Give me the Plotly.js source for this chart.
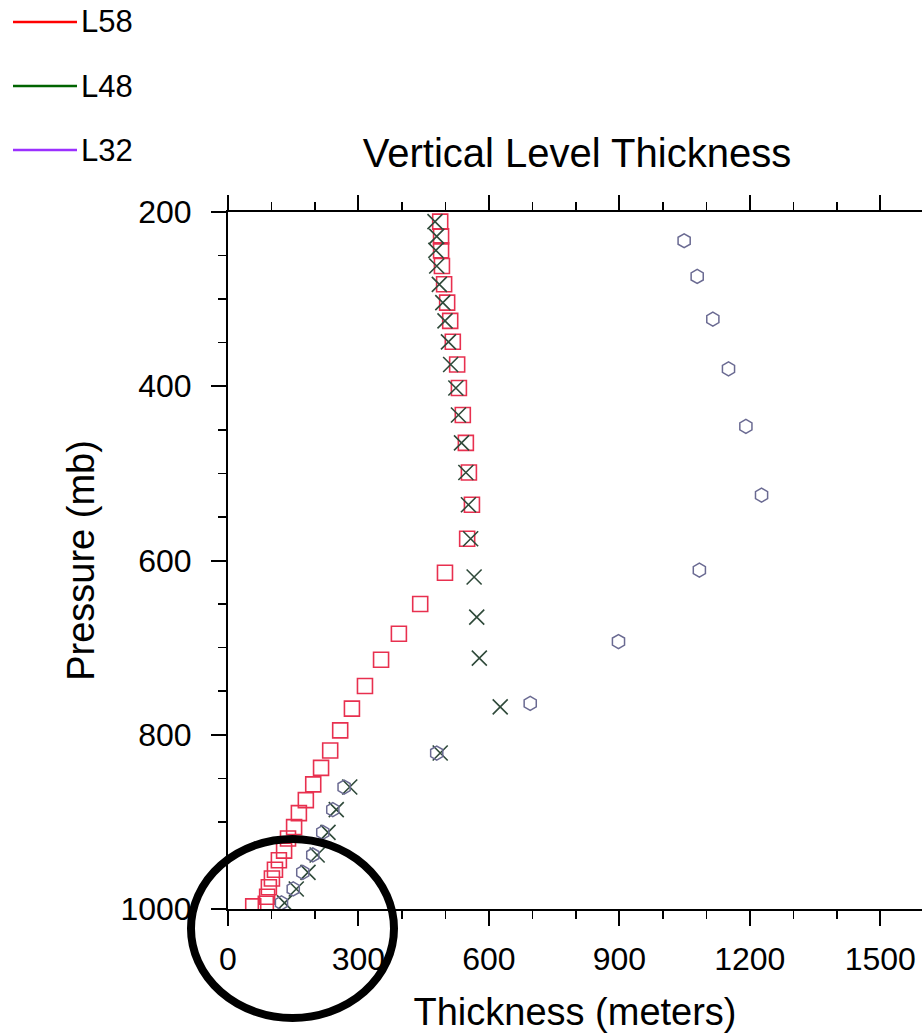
<!DOCTYPE html>
<html>
<head>
<meta charset="utf-8">
<script src="https://cdn.plot.ly/plotly-3.0.1.min.js"></script>
<style>html,body{margin:0;padding:0;background:#fff;}#chart{width:922px;height:1035px;}</style>
</head>
<body>
<div id="chart"></div>
<script>
// Series names
const seriesNames = ["L58", "L48", "L32"];

// L58 (squares)
const l58Pressure = [211, 228, 244, 262, 283, 304, 325, 349, 375, 402, 433, 465, 499, 536, 575, 614, 650, 684, 714, 744, 770, 795, 818, 838, 857, 875, 890, 906, 919, 933, 944, 955, 965, 975, 986, 994, 997];
const l58Thickness = [488, 490, 490, 492, 497, 504, 511, 517, 527, 531, 540, 547, 554, 561, 550, 499, 442, 393, 352, 315, 285, 258, 235, 214, 196, 179, 163, 152, 138, 129, 117, 108, 101, 94, 90, 87, 58];

// L48 (x markers)
const l48Pressure = [211, 228, 244, 262, 283, 304, 325, 349, 375, 402, 433, 465, 499, 536, 575, 619, 665, 712, 768, 821, 860, 886, 912, 938, 958, 977, 993];
const l48Thickness = [476, 480, 478, 480, 486, 494, 499, 507, 512, 524, 530, 537, 547, 553, 558, 566, 572, 578, 626, 488, 280, 249, 230, 205, 184, 157, 130];

// L32 (hexagons)
const l32Pressure = [233, 274, 323, 380, 446, 525, 611, 693, 764, 821, 860, 886, 912, 938, 958, 977, 993];
const l32Thickness = [1049, 1079, 1115, 1151, 1191, 1227, 1084, 898, 695, 480, 267, 241, 218, 195, 172, 150, 123];

// Axis ticks
const xTickVals = [0, 300, 600, 900, 1200, 1500];
const yTickVals = [200, 400, 600, 800, 1000];

const FONT = "Liberation Sans, Arial, Helvetica, sans-serif";

const traces = [
  {
    name: seriesNames[0], x: l58Thickness, y: l58Pressure, type: "scatter", mode: "markers",
    marker: {symbol: "square-open", size: 15, color: "#e8304f", line: {width: 1.6, color: "#e8304f"}},
    showlegend: false
  },
  {
    name: seriesNames[1], x: l48Thickness, y: l48Pressure, type: "scatter", mode: "markers",
    marker: {symbol: "x-thin-open", size: 15, color: "#2f4a3a", line: {width: 1.6, color: "#2f4a3a"}},
    showlegend: false
  },
  {
    name: seriesNames[2], x: l32Thickness, y: l32Pressure, type: "scatter", mode: "markers",
    marker: {symbol: "hexagon-open", size: 14, color: "#6a6a92", line: {width: 1.5, color: "#6a6a92"}},
    showlegend: false
  }
];

// Legend drawn as shapes + annotations (pixel positions converted to paper coords)
const plotLeft = 228, plotW = 694, plotBottom = 909, plotH = 697;
function px2x(p) { return (p - plotLeft) / plotW; }
function py2y(p) { return (plotBottom - p) / plotH; }
const legendColors = ["#ff0000", "#006400", "#9b30ff"];
const legendY = [22, 86, 150];
const shapes = [], annotations = [];
seriesNames.forEach((n, i) => {
  shapes.push({type: "line", xref: "paper", yref: "paper", x0: px2x(13), x1: px2x(77),
    y0: py2y(legendY[i]), y1: py2y(legendY[i]), line: {color: legendColors[i], width: 2.5}});
  annotations.push({xref: "paper", yref: "paper", x: px2x(79), y: py2y(legendY[i]),
    xanchor: "left", yanchor: "middle", text: n, showarrow: false,
    font: {family: FONT, size: 31, color: "#000"}});
});
// Hand-drawn highlight ellipse around the lower-left corner
shapes.push({type: "circle", xref: "paper", yref: "paper", layer: "above",
  x0: px2x(191), x1: px2x(394), y0: py2y(1018), y1: py2y(839),
  line: {color: "#000", width: 8}});

const layout = {
  width: 922, height: 1035,
  margin: {l: 228, r: 0, t: 212, b: 126},
  paper_bgcolor: "#fff", plot_bgcolor: "#fff",
  showlegend: false,
  title: {text: "Vertical Level Thickness", xref: "container", yref: "container",
    x: 577/922, y: 1 - 153/1035, xanchor: "center", yanchor: "middle",
    font: {family: FONT, size: 40, color: "#000"}},
  xaxis: {
    range: [0, 1596], tickvals: xTickVals, ticks: "outside", ticklen: 15, tickwidth: 2, tickcolor: "#000",
    minor: {dtick: 100, tick0: 0, ticks: "outside", ticklen: 8, tickwidth: 1.5, tickcolor: "#000", showgrid: false},
    showline: true, linewidth: 2, linecolor: "#000", mirror: "ticks",
    showgrid: false, zeroline: false, ticklabelstandoff: 6,
    tickfont: {family: FONT, size: 32, color: "#000"},
    title: {text: "Thickness (meters)", standoff: 22, font: {family: FONT, size: 38, color: "#000"}}
  },
  yaxis: {
    range: [1000, 200], tickvals: yTickVals, ticks: "outside", ticklen: 15, tickwidth: 2, tickcolor: "#000",
    minor: {dtick: 50, tick0: 200, ticks: "outside", ticklen: 8, tickwidth: 1.5, tickcolor: "#000", showgrid: false},
    showline: true, linewidth: 2, linecolor: "#000", mirror: false,
    showgrid: false, zeroline: false, ticklabelstandoff: 13,
    tickfont: {family: FONT, size: 32, color: "#000"},
    title: {text: "Pressure (mb)", standoff: 14, font: {family: FONT, size: 38, color: "#000"}}
  },
  shapes: shapes,
  annotations: annotations
};

Plotly.newPlot("chart", traces, layout, {displayModeBar: false, staticPlot: true});
</script>
</body>
</html>
